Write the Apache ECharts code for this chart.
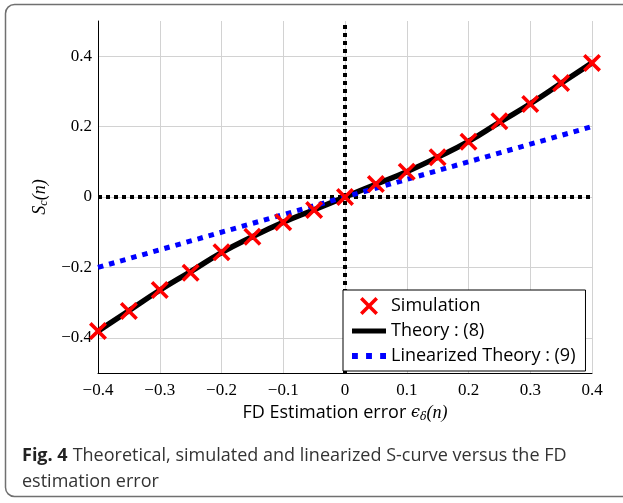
<!DOCTYPE html>
<html>
<head>
<meta charset="utf-8">
<script src="https://cdn.jsdelivr.net/npm/echarts@6/dist/echarts.min.js"></script>
<style>
html,body{margin:0;padding:0;background:#fff;}
#chart{width:623px;height:503px;}
</style>
</head>
<body>
<div id="chart"></div>
<script>
// ---- data ----
var errorX = [-0.4,-0.35,-0.3,-0.25,-0.2,-0.15,-0.1,-0.05,0,0.05,0.1,0.15,0.2,0.25,0.3,0.35,0.4];
var simulationY = [-0.381,-0.324,-0.264,-0.215,-0.157,-0.113,-0.072,-0.037,0,0.037,0.072,0.113,0.157,0.215,0.264,0.324,0.381];
var theoryY = [-0.381,-0.323,-0.265,-0.212,-0.158,-0.113,-0.072,-0.036,0,0.036,0.072,0.113,0.158,0.212,0.265,0.323,0.381];
var linearX = [-0.4, 0.4];
var linearY = [-0.2, 0.2];
var zeroVertical = [[0,-0.5],[0,0.5]];
var zeroHorizontal = [[-0.4,0],[0.4,0]];
var yTicks = [-0.4,-0.2,0,0.2,0.4];
var legendNames = ['Simulation','Theory : (8)','Linearized Theory : (9)'];

function zip(a,b){ return a.map(function(v,i){ return [v,b[i]]; }); }
function fmt(v){
  if (Math.abs(v) < 1e-9) return '0';
  return (v < 0 ? '\u2212' : '') + Math.abs(v).toFixed(1);
}

var crossPath = 'path://M0,1.4L1.4,0L5,3.6L8.6,0L10,1.4L6.4,5L10,8.6L8.6,10L5,6.4L1.4,10L0,8.6L3.6,5Z';
var barPath = 'path://M0,0L34,0L34,5L0,5Z';
var dotsPath = 'path://M0,0L5,0L5,5L0,5ZM12,0L17,0L17,5L12,5ZM24,0L29,0L29,5L24,5Z';

var serif = 'Liberation Serif';
var chart = echarts.init(document.getElementById('chart'), null, {renderer:'canvas'});
chart.setOption({
  animation:false,
  backgroundColor:'#fff',
  grid:{left:98, right:31, top:21, bottom:130, containLabel:false},
  xAxis:{
    type:'value', min:-0.4, max:0.4, interval:0.1,
    axisLine:{onZero:false, lineStyle:{color:'#000', width:1}},
    axisTick:{show:false},
    axisLabel:{formatter:fmt, fontFamily:serif, fontSize:17, color:'#000', margin:9},
    splitLine:{show:true, lineStyle:{color:'#d2d2d2', width:1}},
    name:'{s|FD Estimation error }{m|\u03f5}{sub|\u03b4}{m2|(n)}',
    nameLocation:'middle', nameGap:28,
    nameTextStyle:{rich:{
      s:{fontFamily:'Open Sans', fontSize:18, color:'#000'},
      m:{fontFamily:'DejaVu Serif', fontStyle:'italic', fontSize:16, color:'#000'},
      sub:{fontFamily:'DejaVu Serif', fontStyle:'italic', fontSize:11, color:'#000', padding:[8,0,0,0]},
      m2:{fontFamily:serif, fontStyle:'italic', fontSize:18, color:'#000'}
    }}
  },
  yAxis:{
    type:'value', min:-0.5, max:0.5,
    axisLine:{show:true, onZero:false, lineStyle:{color:'#000', width:1}},
    axisTick:{show:false, customValues:yTicks},
    axisLabel:{formatter:fmt, fontFamily:serif, fontSize:17, color:'#000', margin:6, customValues:yTicks},
    splitLine:{show:true, lineStyle:{color:'#d2d2d2', width:1}},
    name:'{i|S}{sub|c}{p|(n)}',
    nameLocation:'middle', nameGap:48, nameRotate:90,
    nameTextStyle:{rich:{
      i:{fontFamily:serif, fontStyle:'italic', fontSize:18, color:'#000'},
      sub:{fontFamily:serif, fontStyle:'italic', fontSize:12, color:'#000', padding:[8,0,0,0]},
      p:{fontFamily:serif, fontStyle:'italic', fontSize:18, color:'#000'}
    }}
  },
  legend:{
    orient:'vertical', left:343, top:290,
    backgroundColor:'#fff', borderColor:'#000', borderWidth:1, borderRadius:0,
    padding:[7,10,6,9], itemGap:7, itemWidth:34, itemHeight:18,
    textStyle:{fontFamily:'Open Sans', fontSize:18, color:'#000'},
    data:[
      {name:legendNames[0], icon:crossPath},
      {name:legendNames[1], icon:barPath},
      {name:legendNames[2], icon:dotsPath}
    ]
  },
  series:[
    {type:'line', name:'zeroV', data:zeroVertical, symbol:'none', silent:true,
     lineStyle:{color:'#000', width:4, type:[4,4]}, z:1},
    {type:'line', name:'zeroH', data:zeroHorizontal, symbol:'none', silent:true,
     lineStyle:{color:'#000', width:4, type:[4,4]}, z:1},
    {type:'line', name:legendNames[1], data:zip(errorX, theoryY), smooth:true, symbol:'none',
     color:'#000', lineStyle:{color:'#000', width:5.5}, z:2},
    {type:'line', name:legendNames[2], data:zip(linearX, linearY), symbol:'none',
     color:'#0000ff', lineStyle:{color:'#0000ff', width:5, type:[5.5,6]}, z:3},
    {type:'scatter', name:legendNames[0], data:zip(errorX, simulationY), symbol:crossPath, symbolSize:18,
     color:'#ff0000', itemStyle:{color:'#ff0000', opacity:1}, z:4}
  ],
  title:{
    left:17, top:438,
    text:'{b|Fig. 4} {r|Theoretical, simulated and linearized S-curve versus the FD}\n{r|estimation error}',
    textStyle:{
      fontWeight:'normal',
      rich:{
        b:{fontFamily:'Open Sans', fontWeight:'bold', fontSize:18, color:'#222', lineHeight:26},
        r:{fontFamily:'Open Sans', fontWeight:'normal', fontSize:18, color:'#333', lineHeight:26}
      }
    }
  },
  graphic:[
    {type:'rect', shape:{x:5.5, y:4.5, width:700, height:492, r:9}, silent:true,
     style:{fill:'none', stroke:'#707070', lineWidth:1.5}, z:-10}
  ]
});
</script>
</body>
</html>
